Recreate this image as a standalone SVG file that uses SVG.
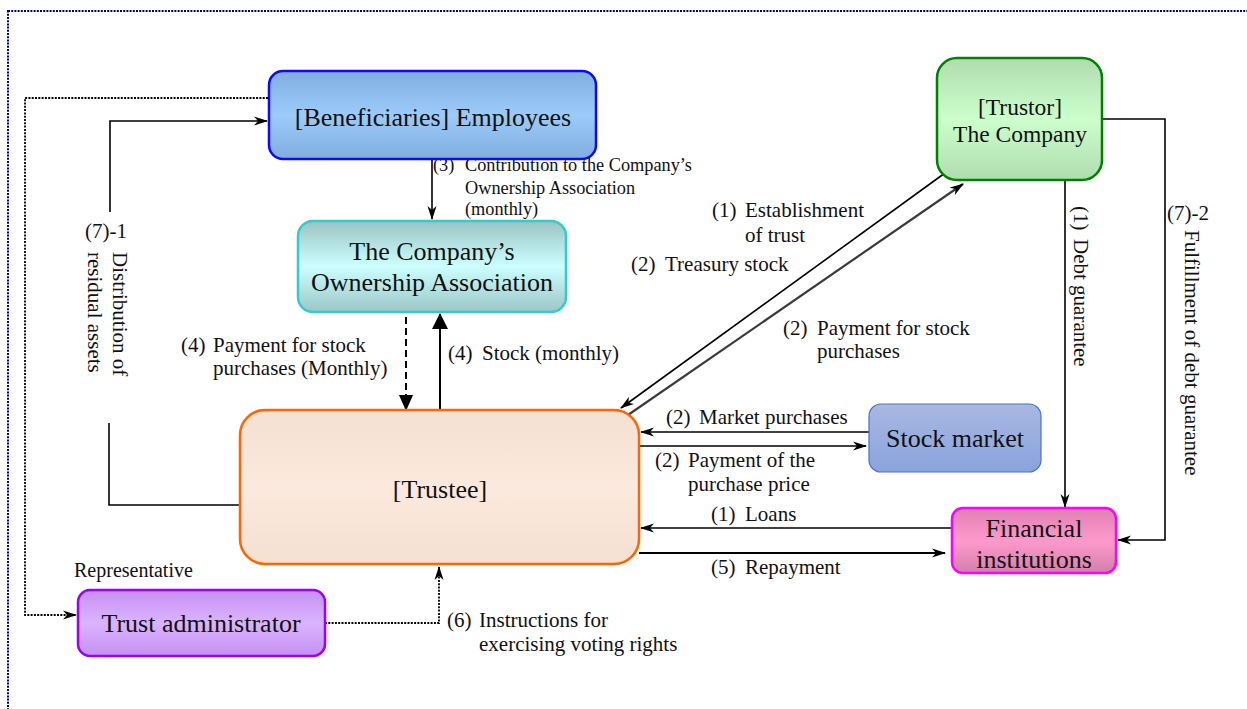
<svg xmlns="http://www.w3.org/2000/svg" width="1247" height="709" viewBox="0 0 1247 709">
<style>
text{font-family:"Liberation Serif","Times New Roman",serif;fill:#111}
.box{font-size:26px;text-anchor:middle}
.lbl{font-size:21px}
.sm{font-size:18.3px}
.c{fill:none;stroke:#000;stroke-width:1.6}
.dot{fill:none;stroke:#000;stroke-width:1.8;stroke-dasharray:2 1.3}
</style>
<defs>
<marker id="ar" viewBox="0 0 14 10" refX="13" refY="5" markerWidth="14" markerHeight="10" orient="auto" markerUnits="userSpaceOnUse"><path d="M0,0.5 L14,5 L0,9.5 L4,5 z" fill="#000"/></marker>
<marker id="tri" viewBox="0 0 16 16" refX="15" refY="8" markerWidth="16" markerHeight="16" orient="auto" markerUnits="userSpaceOnUse"><path d="M0,0 L16,8 L0,16 z" fill="#000"/></marker>
<marker id="tri2" viewBox="0 0 16 14" refX="15" refY="7" markerWidth="16" markerHeight="14" orient="auto" markerUnits="userSpaceOnUse"><path d="M0,0 L16,7 L0,14 z" fill="#000"/></marker>
<linearGradient id="gBen" x1="0" y1="0" x2="0" y2="1"><stop offset="0" stop-color="#80aede"/><stop offset="0.5" stop-color="#9ccbfa"/><stop offset="1" stop-color="#80aede"/></linearGradient>
<linearGradient id="gOwn" x1="0" y1="0" x2="0" y2="1"><stop offset="0" stop-color="#9cc3c3"/><stop offset="0.5" stop-color="#ccffff"/><stop offset="1" stop-color="#9cc6c6"/></linearGradient>
<linearGradient id="gTee" x1="0" y1="0" x2="0" y2="1"><stop offset="0" stop-color="#f5e0d1"/><stop offset="0.5" stop-color="#fbe9dd"/><stop offset="1" stop-color="#f5e0d1"/></linearGradient>
<linearGradient id="gTor" x1="0" y1="0" x2="0" y2="1"><stop offset="0" stop-color="#afdcaf"/><stop offset="0.5" stop-color="#ccffcc"/><stop offset="1" stop-color="#afdcaf"/></linearGradient>
<linearGradient id="gStk" x1="0" y1="0" x2="0" y2="1"><stop offset="0" stop-color="#a8b8e2"/><stop offset="1" stop-color="#8ba3dc"/></linearGradient>
<linearGradient id="gFin" x1="0" y1="0" x2="0" y2="1"><stop offset="0" stop-color="#dc80b0"/><stop offset="0.5" stop-color="#ff99cc"/><stop offset="1" stop-color="#d27fab"/></linearGradient>
<linearGradient id="gAdm" x1="0" y1="0" x2="0" y2="1"><stop offset="0" stop-color="#c690f2"/><stop offset="0.5" stop-color="#dab4ff"/><stop offset="1" stop-color="#c690f2"/></linearGradient>
</defs>
<rect width="1247" height="709" fill="#fff"/>
<rect id="frame" x="8" y="11" width="1300" height="760" fill="none" stroke="#000080" stroke-width="2" stroke-dasharray="2 1.2"/>

<g id="connectors">
<path class="c" d="M110,212 V121 H267" marker-end="url(#ar)"/>
<path class="c" d="M109,423 V505 H241"/>
<path class="dot" d="M268,98 H25 V615 H76" marker-end="url(#ar)"/>
<path class="c" d="M432,159 V219" marker-end="url(#ar)"/>
<path fill="none" stroke="#000" stroke-width="2" stroke-dasharray="7 4" d="M406,317 V410" marker-end="url(#tri2)"/>
<path fill="none" stroke="#000" stroke-width="2" d="M440,410 V314" marker-end="url(#tri)"/>
<path class="c" d="M945,173 L621,408" marker-end="url(#ar)"/>
<path fill="none" stroke="#3a3a3a" stroke-width="2.2" d="M628,415 L963,184" marker-end="url(#ar)"/>
<path class="c" d="M1065,180 V507" marker-end="url(#ar)"/>
<path class="c" d="M1102,119 H1165 V540 H1118" marker-end="url(#ar)"/>
<path class="c" d="M869,432 H641" marker-end="url(#ar)"/>
<path class="c" d="M640,446 H866" marker-end="url(#ar)"/>
<path class="c" d="M951,528 H641" marker-end="url(#ar)"/>
<path fill="none" stroke="#000" stroke-width="2" d="M639,553 H945" marker-end="url(#ar)"/>
<path class="dot" d="M325,623 H439 V567" marker-end="url(#ar)"/>
</g>

<g id="labels">
<text class="lbl" x="85" y="238">(7)-1</text>
<text class="lbl" transform="translate(113,252) rotate(90)"><tspan x="0" y="0">Distribution of</tspan><tspan x="0" y="25">residual assets</tspan></text>
<text class="sm" x="433" y="171">(3)</text>
<text class="sm" x="465" y="171">Contribution to the Company’s</text>
<text class="sm" x="465" y="194">Ownership Association</text>
<text class="sm" x="465" y="215">(monthly)</text>
<text class="lbl" x="181" y="352">(4)</text>
<text class="lbl" x="213" y="352">Payment for stock</text>
<text class="lbl" x="213" y="375">purchases (Monthly)</text>
<text class="lbl" x="448" y="360">(4)</text>
<text class="lbl" x="482" y="360">Stock (monthly)</text>
<text class="lbl" x="712" y="217">(1)</text>
<text class="lbl" x="745" y="217">Establishment</text>
<text class="lbl" x="745" y="242">of trust</text>
<text class="lbl" x="631" y="271">(2)</text>
<text class="lbl" x="665" y="271">Treasury stock</text>
<text class="lbl" x="783" y="335">(2)</text>
<text class="lbl" x="817" y="335">Payment for stock</text>
<text class="lbl" x="817" y="358">purchases</text>
<text class="lbl" x="666" y="424">(2)</text>
<text class="lbl" x="699" y="424">Market purchases</text>
<text class="lbl" x="655" y="467">(2)</text>
<text class="lbl" x="688" y="467">Payment of the</text>
<text class="lbl" x="688" y="491">purchase price</text>
<text class="lbl" x="711" y="521">(1)</text>
<text class="lbl" x="745" y="521">Loans</text>
<text class="lbl" x="711" y="574">(5)</text>
<text class="lbl" x="745" y="574">Repayment</text>
<text class="lbl" transform="translate(1074,206) rotate(90)"><tspan x="0" y="0">(1)</tspan><tspan x="33" y="0">Debt guarantee</tspan></text>
<text class="lbl" x="1167" y="220">(7)-2</text>
<text class="lbl" transform="translate(1185,230) rotate(90)">Fulfillment of debt guarantee</text>
<text class="lbl" x="74" y="577" style="font-size:20px">Representative</text>
<text class="lbl" x="447" y="627">(6)</text>
<text class="lbl" x="479" y="627">Instructions for</text>
<text class="lbl" x="479" y="651">exercising voting rights</text>
</g>

<g id="beneficiaries">
<rect x="269" y="71" width="327" height="88" rx="14" fill="url(#gBen)" stroke="#0a0aff" stroke-width="2.5"/>
<text class="box" x="433" y="126">[Beneficiaries] Employees</text>
</g>
<g id="ownership">
<rect x="298" y="221" width="268" height="91" rx="15" fill="url(#gOwn)" stroke="#33cccc" stroke-width="2.5"/>
<text class="box" x="432" y="260">The Company’s</text>
<text class="box" x="432" y="291">Ownership Association</text>
</g>
<g id="trustee">
<rect x="240" y="410" width="399" height="154" rx="25" fill="url(#gTee)" stroke="#ff6600" stroke-width="2.5"/>
<text class="box" x="440" y="498">[Trustee]</text>
</g>
<g id="trustor">
<rect x="937" y="58" width="165" height="122" rx="20" fill="url(#gTor)" stroke="#008000" stroke-width="2.5"/>
<text class="box" x="1020" y="115" style="font-size:23.5px">[Trustor]</text>
<text class="box" x="1020" y="142" style="font-size:23.5px">The Company</text>
</g>
<g id="stockmarket">
<rect x="869" y="404" width="172" height="68" rx="12" fill="url(#gStk)" stroke="#4a72c8" stroke-width="1.2"/>
<text class="box" x="955" y="447">Stock market</text>
</g>
<g id="financial">
<rect x="952" y="508" width="164" height="65" rx="11" fill="url(#gFin)" stroke="#ff00ff" stroke-width="2.5"/>
<text class="box" x="1034" y="537">Financial</text>
<text class="box" x="1034" y="568">institutions</text>
</g>
<g id="trustadmin">
<rect x="78" y="590" width="247" height="66" rx="12" fill="url(#gAdm)" stroke="#9900ff" stroke-width="2.5"/>
<text class="box" x="201" y="632">Trust administrator</text>
</g>
</svg>
